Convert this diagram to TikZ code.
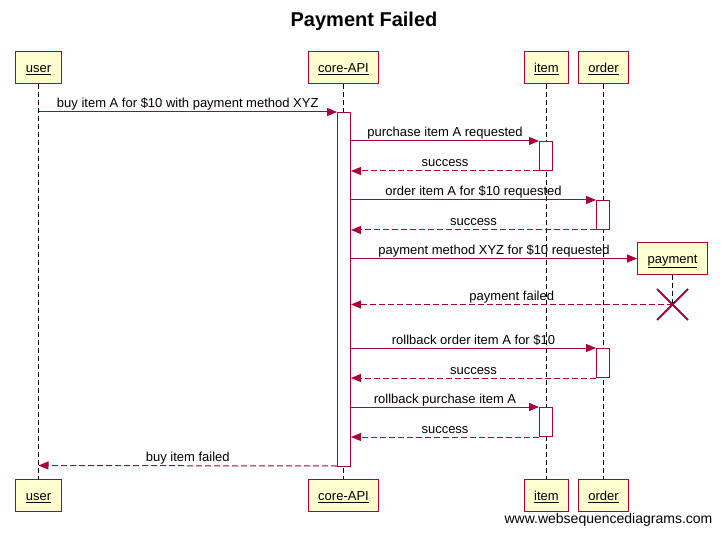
\documentclass[tikz,border=0pt]{standalone}
\usepackage{fontspec}
\setmainfont{Liberation Sans}
\usetikzlibrary{arrows.meta,positioning,calc}
\definecolor{wsdred}{HTML}{A80036}
\definecolor{wsdfill}{HTML}{FEFECE}

\begin{document}
\begin{tikzpicture}[x=1pt, y=-1pt, font=\fontsize{13}{15}\selectfont,
    party/.style={draw=wsdred, fill=wsdfill, line width=1pt, minimum height=32pt, inner xsep=10pt, text height=11pt, text depth=1pt},
    act/.style={draw=wsdred, fill=white, line width=1pt, minimum width=13pt, inner sep=0pt},
    lifeline/.style={black, line width=1pt, dash pattern=on 5pt off 3pt},
    msg/.style={wsdred, line width=1pt, -{Triangle[length=10pt,width=8pt]}},
    reply/.style={msg, dash pattern=on 6pt off 3pt},
    lbl/.style={above, text=black, inner sep=1pt, text depth=2.5pt}]
    \useasboundingbox (-0.5,-0.5) rectangle (721.5,533.5);

    % Title
    \node[font=\bfseries\fontsize{20}{24}\selectfont] (title) at (363.5,21) {Payment Failed};

    % Participants, top and bottom
    \node[party] (user)  at (38,67)  {\underline{user}};
    \node[party] (core)  at (343,67) {\underline{core-API}};
    \node[party] (item)  at (546,67) {\underline{item}};
    \node[party] (order) at (603,67) {\underline{order}};
    \node[party] (userB)  at (38,495)  {\underline{user}};
    \node[party] (coreB)  at (343,495) {\underline{core-API}};
    \node[party] (itemB)  at (546,495) {\underline{item}};
    \node[party] (orderB) at (603,495) {\underline{order}};

    % Lifelines
    \draw[lifeline] (user.south) -- (userB.north);
    \draw[lifeline] (core.south) -- (coreB.north);
    \draw[lifeline] (item.south) -- (itemB.north);
    \draw[lifeline] (order.south) -- (orderB.north);

    % Created participant and its end
    \node[party] (payment) at (672,258) {\underline{payment}};
    \coordinate (payEnd) at (672,304);
    \draw[lifeline] (payment.south) -- (payEnd);
    \draw[wsdred, line width=2pt] ($(payEnd)+(-15.5,-15.5)$) -- ($(payEnd)+(15.5,15.5)$);
    \draw[wsdred, line width=2pt] ($(payEnd)+(-15.5,15.5)$) -- ($(payEnd)+(15.5,-15.5)$);

    % Activations
    \node[act, minimum height=354pt] (coreAct) at (343.5,289) {};
    \node[act, minimum height=29pt] (itemA1)  at (545.5,155.5) {};
    \node[act, minimum height=29pt] (orderA1) at (602.5,214.5) {};
    \node[act, minimum height=29pt] (orderA2) at (602.5,362.5) {};
    \node[act, minimum height=29pt] (itemA2)  at (545.5,421.5) {};

    % Messages
    \draw[msg] (user |- coreAct.north) -- node[lbl] {buy item A for \$10 with payment method XYZ} (coreAct.north west);
    \draw[msg] (coreAct.east |- itemA1.north) -- node[lbl] {purchase item A requested} (itemA1.north west);
    \draw[reply] (itemA1.south west) -- node[lbl] {success} (coreAct.east |- itemA1.south);
    \draw[msg] (coreAct.east |- orderA1.north) -- node[lbl] {order item A for \$10 requested} (orderA1.north west);
    \draw[reply] (orderA1.south west) -- node[lbl] {success} (coreAct.east |- orderA1.south);
    \draw[msg] (coreAct.east |- payment.west) -- node[lbl] {payment method XYZ for \$10 requested} (payment.west);
    \draw[reply] (payEnd) -- node[lbl] {payment failed} (coreAct.east |- payEnd);
    \draw[msg] (coreAct.east |- orderA2.north) -- node[lbl] {rollback order item A for \$10} (orderA2.north west);
    \draw[reply] (orderA2.south west) -- node[lbl] {success} (coreAct.east |- orderA2.south);
    \draw[msg] (coreAct.east |- itemA2.north) -- node[lbl] {rollback purchase item A} (itemA2.north west);
    \draw[reply] (itemA2.south west) -- node[lbl] {success} (coreAct.east |- itemA2.south);
    \draw[reply] ($(coreAct.south west)+(0,-1)$) -- node[lbl] {buy item failed} (user |- 0,465);

    % Watermark
    \node[font=\fontsize{14}{16}\selectfont] (wsd) at (608,519) {www.websequencediagrams.com};
\end{tikzpicture}
\end{document}
